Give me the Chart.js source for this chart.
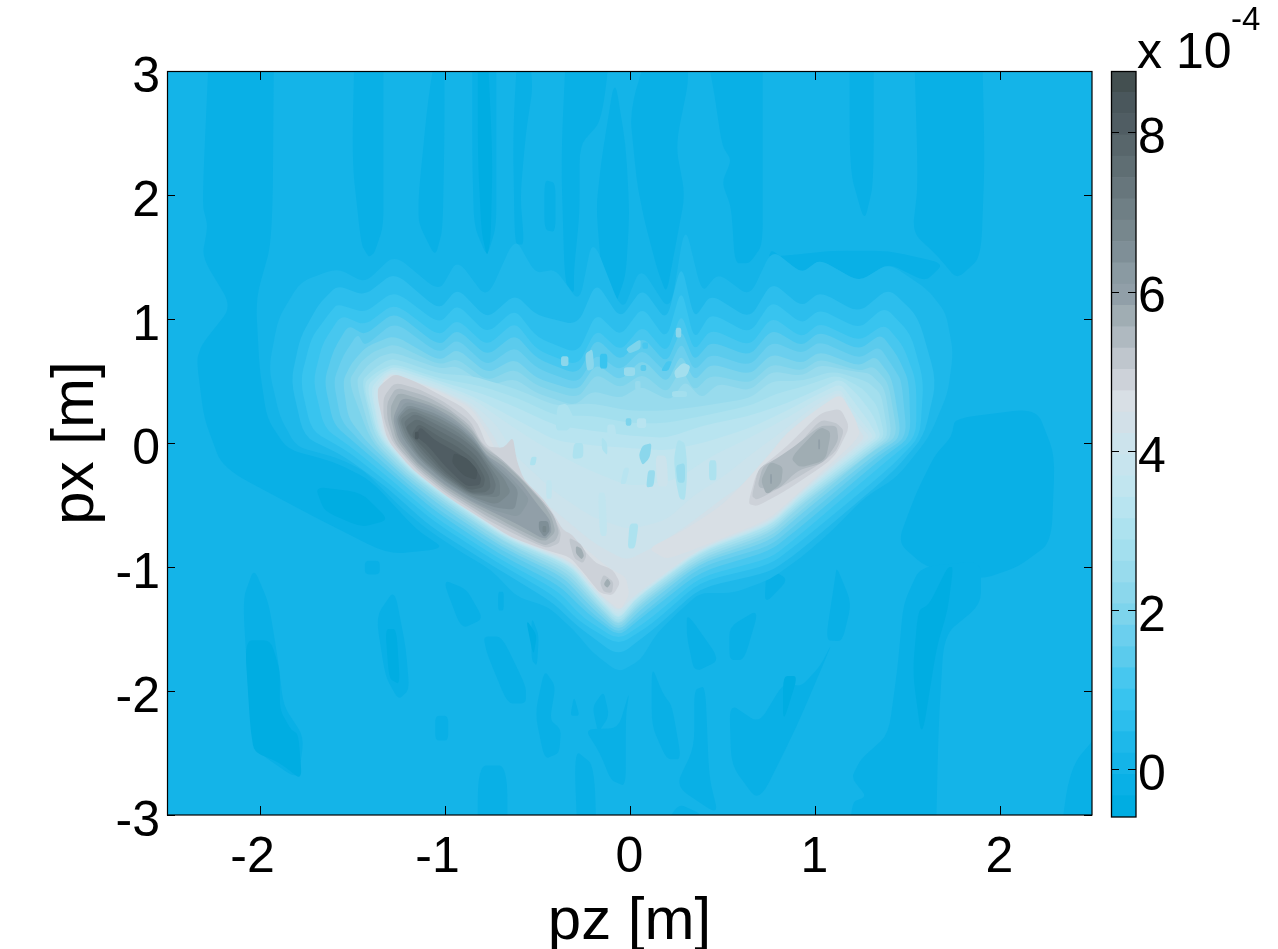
<!DOCTYPE html>
<html><head><meta charset="utf-8">
<script src="https://cdn.jsdelivr.net/npm/chart.js@4"></script>
<style>
html,body{margin:0;padding:0;background:#fff;overflow:hidden}
canvas{position:absolute;top:0}
.t{position:absolute;font-family:"Liberation Sans";color:#000;white-space:pre}
</style></head><body>
<canvas id="main" width="1278" height="949" style="left:0"></canvas>
<canvas id="bar" width="178" height="949" style="left:1100px"></canvas>
<div class="t" style="left:1137px;top:26px;font-size:50px;line-height:50px">x 10</div>
<div class="t" style="left:1231px;top:2px;font-size:33px;line-height:33px">-4</div>
<script>
const pzTicks=[-2,-1,0,1,2];
const pxTicks=[-3,-2,-1,0,1,2,3];
const barTicks=[0,2,4,6,8];
const barEdges=[-0.6,-0.332,-0.064,0.203,0.471,0.739,1.007,1.275,1.542,1.81,2.078,2.345,2.613,2.881,3.149,3.416,3.684,3.952,4.219,4.487,4.755,5.023,5.29,5.558,5.826,6.093,6.361,6.629,6.897,7.164,7.432,7.7,7.967,8.235,8.503,8.77];
const levelColors=['#00ade2','#09b0e6','#14b4e8','#1eb8ea','#2cbeed','#38c4ef','#47c7ef','#5bcbed','#6bcfee','#7dd4ec','#8bd7ec','#98dbed','#a3dfee','#ade2ef','#b8e4f0','#c1e5ef','#c7e4ee','#cce3ec','#d2e0e8','#d8dfe5','#cdd2d9','#bfc6cd','#afb9c0','#a0adb3','#919fa8','#8a9aa2','#7f8f97','#77878d','#6f7f85','#67767c','#5f6e73','#58666b','#505d63','#4a575c','#434f50'];

// contour outlines [pz, px], level = index into levelColors
const low1=[
[[-2.26,3.6],[-2.31,1.93],[-2.28,1.75],[-2.31,1.5],[-2.15,1.1],[-2.31,.8],[-2.34,.67],[-2.3,.2],[-2.2,-.2],[-1.7,-.6],[-1.3,-.9],[-1,-.85],[-1.15,-.7],[-1.4,-.3],[-1.6,-.15],[-1.85,-.05],[-1.96,.2],[-2,.6],[-2.02,1.16],[-1.93,1.64],[-1.92,3.6]],
[[-1.48,3.6],[-1.33,3.6],[-1.33,2.28],[-1.33,1.75],[-1.38,1.53],[-1.41,1.5],[-1.45,1.6],[-1.5,2.28]],
[[-1,3.6],[-1.09,2.76],[-1.14,2],[-1.14,1.77],[-1.05,1.5],[-1.01,1.72],[-1,2.5]],
[[-.85,3.6],[-.72,3.6],[-.72,2.28],[-.72,1.75],[-.77,1.5],[-.84,1.75],[-.85,2.28]],
[[-.59,3.6],[-.52,2.9],[-.56,2.5],[-.59,2],[-.57,1.6],[-.62,1.6],[-.63,2.5]],
[[-.33,3.6],[-.07,3.6],[-.15,2.6],[-.27,2.4],[-.27,1.85],[-.3,1.4],[-.3,1.2],[-.35,1.3],[-.37,2.3]],
[[-.46,2.12],[-.4,2.1],[-.4,1.7],[-.46,1.72]],
[[-.15,2.3],[-.08,2.95],[-.02,2.4],[0,1.85],[-.02,1.35],[-.08,1.1],[-.15,1.35],[-.18,1.9]],
[[.35,3.6],[.72,3.6],[.72,2.3],[.72,1.6],[.65,1.45],[.57,1.45],[.55,1.9],[.5,2.1],[.55,2.28],[.5,2.4],[.45,2.9]],
[[0,2.7],[.2,3.6],[.33,3],[.25,2.4],[.3,2],[.25,1.6],[.2,1.2],[.15,1.4],[.08,1.8],[.04,2.1]],
[[1.19,3.6],[1.32,3.6],[1.32,2.1],[1.27,1.78],[1.19,2.2]],
[[1.53,3.6],[1.9,3.6],[1.92,2.28],[1.9,1.5],[1.77,1.32],[1.67,1.5],[1.53,1.7],[1.56,2.1]],
[[.75,1.5],[.9,1.52],[1.1,1.55],[1.4,1.55],[1.7,1.45],[1.6,1.3],[1.4,1.45],[1.24,1.3],[1.03,1.48],[.93,1.37],[.77,1.56]],
[[1.76,.2],[2.2,.28],[2.3,-.1],[2.28,-.8],[2.1,-1],[1.9,-1.1],[1.6,-1],[1.45,-.8],[1.55,-.4],[1.65,-.1],[1.74,.05]],
[[-2.03,-1.01],[-2.09,-1.26],[-2.06,-2.02],[-2.03,-2.47],[-1.79,-2.72],[-1.76,-2.37],[-1.87,-2.12],[-1.9,-1.75],[-1.95,-1.29]],
[[-1.27,-1.18],[-1.37,-1.4],[-1.32,-1.88],[-1.25,-2.07],[-1.19,-1.99],[-1.21,-1.64]],
[[-1.43,-.95],[-1.35,-.95],[-1.35,-1.06],[-1.43,-1.06]],
[[-1.01,-1.1],[-.91,-1.5],[-.79,-1.42],[-.88,-1.18]],
[[-1.05,-2.2],[-.98,-2.2],[-.98,-2.4],[-1.05,-2.4]],
[[-.79,-1.56],[-.69,-1.56],[-.56,-1.96],[-.56,-2.1],[-.66,-2.1],[-.77,-1.7]],
[[-.71,-1.2],[-.68,-1.2],[-.68,-1.35],[-.71,-1.35]],
[[-.53,-1.4],[-.49,-1.55],[-.5,-1.8],[-.53,-1.75]],
[[-.46,-1.83],[-.4,-1.96],[-.43,-2.23],[-.37,-2.31],[-.38,-2.5],[-.46,-2.55],[-.51,-2.18]],
[[-.3,-2.04],[-.27,-2.2],[-.32,-2.2]],
[[-.14,-2],[-.11,-2.2],[-.17,-2.34],[-.2,-2.13]],
[[-.24,-2.31],[-.16,-2.5],[-.1,-2.72],[-.02,-2.77],[-.02,-2.2],[0,-2],[-.06,-2.3]],
[[.12,-1.8],[.18,-2.02],[.23,-2.12],[.28,-2.55],[.2,-2.55],[.12,-2.28]],
[[.31,-1.37],[.49,-1.75],[.35,-1.85],[.31,-1.56]],
[[.35,-1.99],[.41,-1.96],[.43,-2.69],[.48,-3],[.25,-2.77],[.35,-2.45]],
[[.54,-1.48],[.7,-1.34],[.62,-1.75],[.54,-1.75]],
[[.54,-2.1],[.7,-2.26],[.83,-1.94],[.93,-1.96],[1.03,-1.8],[1.1,-1.6],[.9,-2.3],[.7,-2.9],[.55,-2.6]],
[[1.12,-1],[1.2,-1.29],[1.15,-1.6],[1.06,-1.59],[1.11,-1.1]],
[[.74,-1],[.86,-1.1],[.73,-1.3]],
[[1.57,-1],[1.9,-.95],[1.9,-1.3],[1.7,-1.55],[1.67,-2.3],[1.65,-3.6],[1.17,-3.6],[1.2,-2.9],[1.28,-2.85],[1.2,-2.7],[1.25,-2.55],[1.4,-2.35],[1.45,-1.8],[1.48,-1.3]],
[[2.29,-3.6],[2.38,-2.62],[2.6,-2.23],[2.6,-3.6]],
[[-.82,-2.6],[-.66,-2.6],[-.66,-3.6],[-.82,-3.6]],
[[-.3,-2.47],[-.19,-2.6],[-.17,-3.6],[-.27,-3.6]],
[[.4,-3],[.25,-2.9],[.05,-3.6],[.48,-3.6]]
];
const low0=[
[[-2.08,-1.59],[-1.94,-1.59],[-1.89,-1.83],[-1.89,-2.15],[-1.83,-2.31],[-1.79,-2.35],[-1.77,-2.72],[-1.89,-2.58],[-2.03,-2.49],[-2.05,-2.29]],
[[-.82,3.6],[-.78,3.6],[-.74,2.3],[-.75,1.65],[-.77,1.5],[-.8,1.7],[-.82,2.3]],
[[1.72,-1],[1.75,-1],[1.72,-1.35],[1.66,-1.65],[1.58,-2.4],[1.53,-1.85],[1.56,-1.35],[1.62,-1.3]],
[[.83,-1.88],[.91,-1.88],[.83,-2.26]],
[[-1.32,-1.5],[-1.26,-1.5],[-1.24,-1.95],[-1.3,-1.9]],
[[-.56,-1.42],[-.5,-1.55],[-.52,-1.72]],
[[-1.7,-.35],[-1.45,-.4],[-1.3,-.62],[-1.45,-.68],[-1.65,-.55]]
];
const k3=[[-1.95,.6],[-1.9,1],[-1.78,1.3],[-1.58,1.41],[-1.43,1.29],[-1.27,1.52],[-1.03,1.22],[-.93,1.48],[-.77,1.16],[-.62,1.66],[-.51,1.37],[-.4,1.4],[-.27,1.13],[-.2,1.66],[-.04,1.05],[.06,1.42],[.22,1.05],[.3,1.77],[.39,1.21],[.48,1.37],[.65,1.18],[.77,1.56],[.93,1.37],[1.03,1.48],[1.24,1.3],[1.4,1.45],[1.61,1.24],[1.71,1.05],[1.75,.73],[1.72,.4],[1.62,.05],[1.45,-.27],[1.27,-.44],[1.1,-.7],[.93,-.92],[.76,-1.1],[.56,-1.21],[.38,-1.21],[.26,-1.37],[.15,-1.53],[.06,-1.75],[-.06,-1.85],[-.2,-1.69],[-.3,-1.51],[-.44,-1.32],[-.61,-1.24],[-.75,-1.02],[-.9,-.89],[-1.09,-.7],[-1.22,-.54],[-1.33,-.38],[-1.44,-.22],[-1.58,-.12],[-1.8,-.03],[-1.89,.21]];
const k4=[[-1.83,.5],[-1.78,.85],[-1.68,1.12],[-1.58,1.27],[-1.43,1.19],[-1.27,1.38],[-1.03,1.07],[-.93,1.25],[-.77,1],[-.62,1.2],[-.5,1.03],[-.28,.95],[-.18,1.3],[-.05,1],[.07,1.25],[.2,.98],[.28,1.45],[.35,1],[.44,1.2],[.65,1],[.77,1.3],[.93,1.1],[1.03,1.22],[1.24,1.05],[1.4,1.25],[1.56,1.02],[1.66,.5],[1.59,.05],[1.42,-.24],[.93,-.86],[.76,-1.04],[.38,-1.17],[.14,-1.49],[-.06,-1.72],[-.28,-1.48],[-.42,-1.28],[-.74,-.99],[-1.08,-.67],[-1.31,-.36],[-1.55,-.1],[-1.76,.05]];
const k5=[[-1.78,.5],[-1.72,.85],[-1.62,1.05],[-1.58,1.12],[-1.43,1.05],[-1.27,1.23],[-1.03,.96],[-.93,1.12],[-.77,.88],[-.62,1.08],[-.5,.85],[-.28,.72],[-.18,1.05],[-.05,.86],[.07,1.1],[.2,.83],[.28,1.25],[.35,.83],[.44,1.05],[.65,.88],[.77,1.15],[.93,.96],[1.03,1.08],[1.24,.92],[1.38,1.1],[1.52,.88],[1.59,.5],[1.57,.05],[1.4,-.21],[.93,-.79],[.76,-.98],[.38,-1.12],[.12,-1.46],[-.06,-1.63],[-.27,-1.44],[-.41,-1.23],[-.73,-.95],[-1.06,-.63],[-1.29,-.34],[-1.52,-.07],[-1.72,.1]];
const k6=[[-1.71,.5],[-1.66,.8],[-1.56,1.03],[-1.43,.95],[-1.27,1.13],[-1.03,.86],[-.93,1],[-.77,.78],[-.62,.98],[-.5,.75],[-.28,.62],[-.18,.92],[-.05,.74],[.07,.95],[.2,.72],[.28,1.05],[.35,.74],[.44,.92],[.65,.78],[.77,1.02],[.93,.85],[1.03,.97],[1.24,.82],[1.38,.96],[1.48,.78],[1.55,.5],[1.55,.05],[1.37,-.17],[.93,-.73],[.76,-.93],[.38,-1.08],[.11,-1.42],[-.06,-1.59],[-.25,-1.41],[-.39,-1.19],[-.72,-.92],[-1.05,-.6],[-1.27,-.32],[-1.49,-.05],[-1.65,.12]];
const k7=[[-1.65,.5],[-1.6,.75],[-1.52,.95],[-1.43,.87],[-1.27,1.06],[-1.03,.78],[-.93,.92],[-.77,.7],[-.62,.88],[-.5,.68],[-.28,.55],[-.18,.85],[-.05,.66],[.07,.86],[.2,.64],[.28,.92],[.35,.66],[.44,.82],[.65,.7],[.77,.92],[.93,.78],[1.03,.9],[1.24,.75],[1.36,.88],[1.45,.7],[1.51,.5],[1.52,.05],[1.35,-.14],[.93,-.67],[.76,-.87],[.38,-1.04],[.09,-1.38],[-.06,-1.56],[-.23,-1.37],[-.38,-1.15],[-.71,-.89],[-1.04,-.56],[-1.25,-.3],[-1.46,-.03],[-1.6,.15]];
const k8=[[-1.6,.5],[-1.55,.7],[-1.47,.88],[-1.43,.78],[-1.27,.98],[-1.03,.72],[-.93,.84],[-.77,.62],[-.62,.78],[-.5,.6],[-.28,.48],[-.18,.72],[-.05,.58],[.07,.76],[.2,.56],[.28,.82],[.35,.58],[.44,.72],[.65,.62],[.77,.82],[.93,.72],[1.03,.82],[1.24,.68],[1.35,.78],[1.43,.6],[1.47,.5],[1.5,.05],[1.33,-.12],[.93,-.62],[.76,-.83],[.38,-1],[.08,-1.36],[-.06,-1.54],[-.22,-1.35],[-.37,-1.11],[-.7,-.86],[-1.03,-.54],[-1.24,-.28],[-1.44,-.01],[-1.56,.18]];
const k9=[[-1.55,.5],[-1.5,.65],[-1.42,.78],[-1.27,.87],[-1.03,.66],[-.93,.76],[-.77,.56],[-.62,.68],[-.5,.52],[-.28,.42],[-.18,.64],[-.05,.5],[.07,.68],[.2,.48],[.28,.72],[.35,.5],[.44,.64],[.65,.55],[.77,.72],[.93,.64],[1.03,.74],[1.24,.62],[1.33,.7],[1.42,.52],[1.47,.05],[1.32,-.1],[.93,-.57],[.76,-.79],[.38,-.97],[.07,-1.33],[-.06,-1.52],[-.21,-1.32],[-.36,-1.08],[-.69,-.84],[-1.02,-.51],[-1.23,-.26],[-1.42,.01],[-1.52,.2]];
const k10=[[-1.52,.5],[-1.45,.66],[-1.38,.74],[-1.27,.8],[-1.03,.63],[-.93,.68],[-.77,.5],[-.62,.6],[-.5,.46],[-.28,.36],[-.18,.56],[-.05,.44],[.07,.56],[.2,.4],[.28,.6],[.35,.42],[.44,.55],[.65,.48],[.77,.64],[.93,.58],[1.03,.68],[1.24,.58],[1.32,.62],[1.4,.48],[1.45,.05],[1.3,-.08],[.93,-.54],[.76,-.76],[.38,-.95],[.06,-1.31],[-.06,-1.5],[-.2,-1.3],[-.35,-1.06],[-.69,-.82],[-1.01,-.49],[-1.22,-.25],[-1.4,.02]];
const k11=[[-1.48,.5],[-1.42,.62],[-1.35,.7],[-1.27,.73],[-1.03,.6],[-.93,.62],[-.77,.46],[-.62,.52],[-.5,.4],[-.3,.3],[-.2,.42],[-.05,.36],[.06,.46],[.22,.34],[.3,.5],[.39,.36],[.48,.48],[.65,.42],[.77,.58],[.93,.54],[1.03,.63],[1.2,.58],[1.3,.56],[1.38,.44],[1.42,.05],[1.31,-.07],[.93,-.5],[.76,-.73],[.38,-.93],[.06,-1.29],[-.06,-1.48],[-.19,-1.29],[-.34,-1.04],[-.68,-.8],[-1,-.48],[-1.21,-.24],[-1.39,.03]];
const k12=[[-1.45,.5],[-1.38,.6],[-1.32,.66],[-1.27,.68],[-1.03,.56],[-.85,.54],[-.62,.44],[-.4,.3],[-.2,.32],[0,.26],[.2,.26],[.4,.3],[.65,.36],[.77,.5],[.93,.5],[1.1,.58],[1.28,.5],[1.36,.4],[1.4,.05],[1.3,-.06],[.93,-.48],[.76,-.71],[.38,-.91],[.05,-1.28],[-.06,-1.47],[-.19,-1.27],[-.33,-1.02],[-.68,-.79],[-1,-.46],[-1.2,-.23],[-1.375,.04]];
const k13=[[-1.44,.48],[-1.36,.58],[-1.27,.64],[-1.03,.52],[-.8,.46],[-.6,.36],[-.4,.22],[-.2,.22],[0,.16],[.2,.16],[.4,.22],[.65,.3],[.8,.4],[.95,.46],[1.12,.55],[1.26,.44],[1.34,.3],[1.38,.05],[1.29,-.05],[.93,-.46],[.76,-.69],[.38,-.89],[.05,-1.26],[-.06,-1.45],[-.18,-1.26],[-.33,-1],[-.67,-.78],[-.995,-.45],[-1.195,-.225],[-1.365,.05]];
const k14=[[-1.42,.46],[-1.35,.56],[-1.27,.62],[-1.03,.5],[-.8,.4],[-.6,.28],[-.4,.14],[-.2,.1],[0,.06],[.2,.04],[.4,.14],[.65,.22],[.85,.32],[1,.42],[1.14,.52],[1.24,.38],[1.32,.22],[1.36,.05],[1.28,-.04],[.93,-.44],[.76,-.67],[.38,-.88],[.04,-1.25],[-.06,-1.43],[-.18,-1.25],[-.32,-.99],[-.67,-.77],[-.99,-.44],[-1.19,-.22],[-1.36,.06]];
const k15=[[-1.4,.44],[-1.33,.56],[-1.27,.6],[-1.03,.48],[-.85,.38],[-.6,.18],[-.4,.02],[-.2,-.02],[0,-.04],[.2,-.06],[.4,0],[.65,.12],[.85,.26],[1,.38],[1.14,.48],[1.22,.32],[1.29,.18],[1.34,.05],[1.27,-.03],[.93,-.42],[.76,-.66],[.38,-.87],[.04,-1.245],[-.06,-1.42],[-.17,-1.24],[-.32,-.98],[-.67,-.76],[-.99,-.43],[-1.185,-.215],[-1.35,.06]];
const k16=[[-1.39,.42],[-1.32,.55],[-1.27,.58],[-1.03,.46],[-.85,.36],[-.7,.2],[-.5,0],[-.25,-.2],[0,-.35],[.25,-.3],[.45,-.1],[.62,.02],[.85,.2],[1,.34],[1.14,.44],[1.2,.28],[1.27,.15],[1.32,.05],[1.26,-.02],[.93,-.41],[.76,-.65],[.38,-.86],[.04,-1.24],[-.06,-1.4],[-.17,-1.24],[-.32,-.97],[-.665,-.76],[-.985,-.43],[-1.18,-.21],[-1.345,.07]];
const k17=[[-1.37,.42],[-1.31,.55],[-1.27,.56],[-1.03,.44],[-.85,.32],[-.72,.15],[-.62,-.1],[-.4,-.4],[-.2,-.6],[0,-.7],[.2,-.62],[.35,-.42],[.5,-.28],[.65,-.1],[.85,.12],[1,.3],[1.14,.42],[1.2,.22],[1.3,.05],[1.25,-.01],[.93,-.4],[.76,-.64],[.38,-.855],[.035,-1.23],[-.06,-1.38],[-.165,-1.23],[-.315,-.965],[-.665,-.75],[-.985,-.42],[-1.18,-.21],[-1.34,.07]];
const k18=[[-1.35,.42],[-1.3,.55],[-1.27,.55],[-1.03,.43],[-.85,.3],[-.73,.05],[-.62,-.3],[-.4,-.55],[-.2,-.8],[-.02,-.95],[.12,-.85],[.3,-.68],[.5,-.45],[.65,-.3],[.78,-.05],[.95,.14],[1.1,.34],[1.18,.24],[1.27,.05],[1.245,0],[.93,-.39],[.76,-.63],[.38,-.85],[.03,-1.225],[-.06,-1.36],[-.16,-1.225],[-.31,-.96],[-.66,-.75],[-.98,-.41],[-1.17,-.2],[-1.335,.08]];
const k19a=[[-1.34,.5],[-1.27,.55],[-1.03,.42],[-.85,.28],[-.74,0],[-.62,-.38],[-.45,-.6],[-.28,-.8],[-.12,-1],[-.02,-1.08],[0,-1.22],[-.05,-1.35],[-.16,-1.22],[-.31,-.95],[-.66,-.74],[-.98,-.41],[-1.17,-.2],[-1.33,.08]];
const k19b=[[1.14,.4],[1.22,.2],[1.25,.05],[.93,-.38],[.75,-.62],[.38,-.84],[.2,-.94],[.1,-.85],[.3,-.7],[.5,-.5],[.62,-.32],[.75,-.1],[.85,.08],[1,.26]];
// [level, outline] spots inside the light plateau
const spots=[
[10,[[-.24,.72],[-.2,.76],[-.19,.6],[-.23,.58]]],
[10,[[.25,.93],[.28,.93],[.28,.85],[.25,.85]]],
[12,[[.24,.58],[.29,.65],[.33,.62],[.31,.54],[.25,.52]]],
[11,[[-.03,.61],[.03,.61],[.03,.54],[-.03,.54]]],
[11,[[.03,.5],[.06,.5],[.06,.43],[.03,.43]]],
[12,[[.23,.42],[.31,.42],[.31,.37],[.23,.37]]],
[9,[[-.02,.76],[.06,.84],[.06,.76],[0,.72]]],
[6,[[.07,.81],[.1,.81],[.1,.76],[.07,.76]]],
[7,[[.06,.63],[.09,.63],[.09,.58],[.06,.58]]],
[6,[[.2,.66],[.23,.66],[.21,.58],[.17,.58]]],
[8,[[.35,.6],[.38,.6],[.38,.56],[.35,.56]]],
[9,[[-.02,.2],[.01,.2],[.01,.14],[-.02,.14]]],
[14,[[.04,.2],[.09,.2],[.09,.12],[.04,.12]]],
[14,[[-.12,.15],[-.08,.15],[-.07,.05],[-.12,.05]]],
[13,[[-.39,.3],[-.34,.32],[-.3,.2],[-.33,.1],[-.4,.1]]],
[10,[[.07,-.02],[.12,0],[.11,-.12],[.07,-.18],[.05,-.1]]],
[11,[[.1,-.22],[.14,-.22],[.13,-.35],[.09,-.36]]],
[13,[[.26,.03],[.3,0],[.31,-.14],[.31,-.3],[.3,-.46],[.27,-.45],[.25,-.3],[.24,-.12]]],
[11,[[.25,-.18],[.3,-.16],[.3,-.32],[.26,-.32]]],
[13,[[.43,-.14],[.47,-.14],[.47,-.3],[.43,-.3]]],
[13,[[-.3,0],[-.25,0],[-.25,-.12],[-.31,-.13]]],
[13,[[-.15,.05],[-.12,0],[-.12,-.1],[-.15,-.05]]],
[13,[[0,-.65],[.05,-.65],[.03,-.85],[-.01,-.85]]],
[15,[[-.17,-.4],[-.13,-.4],[-.12,-.75],[-.16,-.75]]],
[14,[[-.03,-.2],[0,-.2],[-.02,-.33],[-.05,-.33]]],
[17,[[.14,-.1],[.2,-.1],[.21,-.35],[.15,-.35]]],
[13,[[-.53,-.11],[-.5,-.11],[-.51,-.18],[-.54,-.18]]],
[10,[[-.37,.7],[-.33,.7],[-.33,.62],[-.37,.62]]],
[5,[[-.16,.72],[-.12,.72],[-.12,.6],[-.16,.6]]],
[15,[[-.45,-.3],[-.42,-.3],[-.42,-.45],[-.45,-.45]]]
];
const k20a=[[-1.27,.56],[-1.15,.49],[-1.04,.4],[-.9,.29],[-.82,.16],[-.77,-.03],[-.68,-.04],[-.63,.05],[-.61,-.14],[-.57,-.3],[-.46,-.46],[-.4,-.6],[-.36,-.7],[-.31,-.74],[-.23,-.89],[-.18,-.97],[-.09,-1.02],[-.05,-1.13],[-.09,-1.23],[-.16,-1.21],[-.23,-1.08],[-.32,-.92],[-.46,-.86],[-.64,-.76],[-.79,-.62],[-.99,-.43],[-1.17,-.22],[-1.31,.02],[-1.36,.35],[-1.36,.45]];
const k20b=[[.64,-.49],[.69,-.22],[.85,-.03],[1.03,.24],[1.14,.28],[1.19,.13],[1.12,-.08],[1.07,-.16],[.85,-.38],[.69,-.51]];
const k21a=[[-1.27,.49],[-1.13,.43],[-1,.33],[-.86,.18],[-.8,0],[-.71,-.11],[-.62,-.24],[-.5,-.43],[-.42,-.56],[-.37,-.72],[-.38,-.81],[-.45,-.85],[-.63,-.73],[-.78,-.61],[-.86,-.53],[-1,-.4],[-1.15,-.22],[-1.28,0],[-1.33,.2],[-1.33,.37]];
const k21b=[[-.33,-.76],[-.265,-.81],[-.23,-.9],[-.25,-.97],[-.3,-.93]];
const k21c=[[-.14,-1.06],[-.086,-1.12],[-.095,-1.21],[-.14,-1.2],[-.16,-1.13]];
const k21d=[[.66,-.43],[.7,-.19],[.87,-.09],[1.03,.19],[1.12,.16],[1.16,.1],[1.12,-.06],[1.04,-.16],[.85,-.33],[.69,-.46]];
const k22a=[[-1.26,.45],[-1.1,.38],[-.98,.28],[-.86,.14],[-.79,-.03],[-.69,-.13],[-.6,-.26],[-.48,-.45],[-.41,-.58],[-.38,-.72],[-.4,-.79],[-.46,-.83],[-.62,-.71],[-.77,-.59],[-.86,-.51],[-1,-.38],[-1.15,-.2],[-1.27,0],[-1.31,.2],[-1.31,.33]];
const k22b=[[.69,-.36],[.72,-.19],[.8,-.12],[.89,-.03],[1.03,.14],[1.12,.14],[1.13,.02],[1.05,-.16],[.91,-.22],[.8,-.38]];
const k23a=[[-1.25,.41],[-1.08,.33],[-.96,.24],[-.85,.1],[-.78,-.06],[-.68,-.16],[-.58,-.3],[-.47,-.48],[-.42,-.6],[-.4,-.72],[-.46,-.8],[-.61,-.69],[-.76,-.57],[-.86,-.49],[-1,-.36],[-1.15,-.18],[-1.26,.02],[-1.29,.2],[-1.29,.3]];
const k23b=[[-.29,-.83],[-.26,-.85],[-.245,-.91],[-.26,-.94],[-.29,-.89]];
const k23c=[[-.12,-1.09],[-.1,-1.13],[-.12,-1.17],[-.14,-1.14]];
const k23d=[[.71,-.3],[.76,-.15],[.83,-.19],[.82,-.33],[.74,-.42]];
const k23e=[[.87,-.12],[1.03,.13],[1.09,.09],[1.06,-.14],[.92,-.2]];
const k24a=[[-1.23,.37],[-1.07,.3],[-.95,.2],[-.85,.07],[-.78,-.09],[-.68,-.19],[-.58,-.33],[-.5,-.49],[-.43,-.62],[-.42,-.72],[-.46,-.78],[-.6,-.66],[-.75,-.55],[-.86,-.47],[-1,-.34],[-1.15,-.16],[-1.25,.03],[-1.28,.2]];
const k24b=[[.76,-.25],[.77,-.25],[.77,-.33],[.76,-.33]];
const k24c=[[1.02,.03],[1.03,.03],[1.03,-.05],[1.02,-.05]];
const k25=[[-1.21,.34],[-1.06,.27],[-.94,.17],[-.84,.04],[-.77,-.11],[-.68,-.22],[-.59,-.36],[-.54,-.46],[-.6,-.6],[-.74,-.54],[-.86,-.46],[-1,-.33],[-1.15,-.15],[-1.24,.04],[-1.27,.2]];
const k26a=[[-1.2,.31],[-1.05,.24],[-.93,.14],[-.84,.02],[-.76,-.14],[-.68,-.25],[-.6,-.38],[-.62,-.54],[-.73,-.52],[-.86,-.44],[-1,-.31],[-1.14,-.13],[-1.23,.05],[-1.26,.2]];
const k26b=[[-.49,-.63],[-.44,-.63],[-.43,-.71],[-.46,-.76],[-.49,-.7]];
const k27a=[[-1.19,.29],[-1.04,.21],[-.92,.11],[-.83,-.01],[-.75,-.17],[-.68,-.28],[-.64,-.4],[-.72,-.5],[-.86,-.43],[-1,-.3],[-1.14,-.11],[-1.22,.06],[-1.25,.2]];
const k27b=[[-.47,-.67],[-.45,-.67],[-.45,-.72],[-.47,-.72]];
const k28=[[-1.17,.26],[-1.04,.18],[-.92,.08],[-.83,-.04],[-.75,-.2],[-.7,-.31],[-.7,-.44],[-.86,-.42],[-1,-.28],[-1.14,-.1],[-1.21,.07],[-1.24,.19]];
const k29=[[-1.16,.24],[-1.03,.14],[-.91,.04],[-.82,-.07],[-.75,-.23],[-.72,-.34],[-.74,-.42],[-.86,-.41],[-1,-.27],[-1.13,-.08],[-1.2,.08],[-1.22,.17]];
const k30=[[-1.15,.2],[-1.03,.1],[-.92,.01],[-.83,-.1],[-.76,-.26],[-.75,-.36],[-.78,-.4],[-.86,-.4],[-1,-.25],[-1.12,-.06],[-1.19,.07],[-1.21,.13]];
const k31=[[-1.14,.16],[-1.04,.06],[-.93,-.03],[-.84,-.13],[-.78,-.28],[-.79,-.36],[-.87,-.38],[-1,-.23],[-1.11,-.04],[-1.18,.06]];
const k32=[[-1.13,.13],[-1.05,.02],[-.95,-.06],[-.86,-.15],[-.8,-.28],[-.81,-.34],[-.88,-.35],[-.99,-.2],[-1.09,-.02],[-1.16,.06]];
const k33a=[[-.95,-.08],[-.88,-.12],[-.82,-.22],[-.83,-.3],[-.9,-.26],[-.96,-.16]];
const k33b=[[-1.16,.09],[-1.14,.09],[-1.14,.03],[-1.16,.03]];

const layers=[...low1.map(p=>[1,p]),...low0.map(p=>[0,p]),
[3,k3],[4,k4],[5,k5],[6,k6],[7,k7],[8,k8],[9,k9],[10,k10],[11,k11],[12,k12],[13,k13],[14,k14],[15,k15],[16,k16],[17,k17],[18,k18],[19,k19a],[19,k19b],
...spots,
[20,k20a],[20,k20b],[21,k21a],[21,k21b],[21,k21c],[21,k21d],[22,k22a],[22,k22b],[23,k23a],[23,k23b],[23,k23c],[23,k23d],[23,k23e],[24,k24a],[24,k24b],[24,k24c],[25,k25],[26,k26a],[26,k26b],[27,k27a],[27,k27b],[28,k28],[29,k29],[30,k30],[31,k31],[32,k32],[33,k33a],[33,k33b]];

const font='"Liberation Sans"';
const cut=.28;
const fillBands={id:'fillBands',
 beforeDatasetsDraw(chart){const a=chart.chartArea,c=chart.ctx;c.save();c.fillStyle=levelColors[2];c.fillRect(a.left,a.top,a.right-a.left,a.bottom-a.top);c.restore();},
 afterDatasetDraw(chart,args){
  const pts=args.meta.data, ctx=chart.ctx, a=chart.chartArea, n=pts.length;
  ctx.save();ctx.beginPath();ctx.rect(a.left,a.top,a.right-a.left,a.bottom-a.top);ctx.clip();
  ctx.beginPath();
  for(let i=0;i<n;i++){
    const p=pts[i],q=pts[(i+n-1)%n],r=pts[(i+1)%n];
    const ax=p.x+(q.x-p.x)*cut,ay=p.y+(q.y-p.y)*cut,bx=p.x+(r.x-p.x)*cut,by=p.y+(r.y-p.y)*cut;
    if(i)ctx.lineTo(ax,ay);else ctx.moveTo(ax,ay);
    ctx.quadraticCurveTo(p.x,p.y,bx,by);
  }
  ctx.closePath();
  ctx.fillStyle=args.meta.controller.getDataset().bandColor;ctx.fill();ctx.restore();
}};
const frame={id:'frame',afterDraw(chart){
  const ctx=chart.ctx,a=chart.chartArea,X=chart.scales.x,Y=chart.scales.y,L=9;
  ctx.save();ctx.strokeStyle='#000';ctx.lineWidth=1;ctx.beginPath();
  const isBar=chart.canvas.id==='bar';
  if(!isBar)pzTicks.forEach(v=>{const x=Math.round(X.getPixelForValue(v))+.5;ctx.moveTo(x,a.bottom);ctx.lineTo(x,a.bottom-L);ctx.moveTo(x,a.top);ctx.lineTo(x,a.top+L);});
  (isBar?barTicks:pxTicks).forEach(v=>{const y=Math.round(Y.getPixelForValue(v))+.5;ctx.moveTo(a.left,y);ctx.lineTo(a.left+L-1,y);ctx.moveTo(a.right,y);ctx.lineTo(a.right-L+1,y);});
  ctx.stroke();
  ctx.lineWidth=isBar?1.3:1.2;ctx.strokeRect(a.left+.5,a.top+.5,a.right-a.left-.5,a.bottom-a.top-.5);ctx.restore();
}};

new Chart(document.getElementById('main'),{type:'scatter',
 data:{datasets:layers.map(([k,p],i)=>({data:p.map(([x,y])=>({x,y})),bandColor:levelColors[k],order:layers.length-i,pointRadius:0,showLine:false}))},
 plugins:[fillBands,frame],
 options:{responsive:false,animation:false,events:[],
  layout:{padding:{top:71,right:186,left:0,bottom:0}},
  plugins:{legend:{display:false},tooltip:{enabled:false}},
  scales:{
   x:{type:'linear',min:-2.5,max:2.5,afterBuildTicks:s=>{s.ticks=pzTicks.map(value=>({value}))},afterFit:s=>{s.height=134},
      grid:{display:false,drawTicks:false},border:{display:false},
      ticks:{autoSkip:false,maxRotation:0,padding:13,color:'#000',font:{family:font,size:50},callback:v=>v<0?v+' ':''+v},
      title:{display:true,text:'pz [m]',color:'#000',font:{family:font,size:60},padding:{top:0,bottom:-9}}},
   y:{type:'linear',min:-3,max:3,afterBuildTicks:s=>{s.ticks=pxTicks.map(value=>({value}))},afterFit:s=>{s.width=167},
      grid:{display:false,drawTicks:false},border:{display:false},
      ticks:{autoSkip:false,padding:7,labelOffset:7,color:'#000',font:{family:font,size:50},callback:v=>''+v},
      title:{display:true,text:'px [m]',color:'#000',font:{family:font,size:60},padding:{top:40,bottom:0}}}
  }}});

new Chart(document.getElementById('bar'),{type:'bar',
 data:{labels:['c'],datasets:levelColors.map((c,i)=>({data:[[barEdges[i],barEdges[i+1]]],backgroundColor:c,borderWidth:0,grouped:false,barPercentage:1,categoryPercentage:1}))},
 plugins:[frame],
 options:{responsive:false,animation:false,events:[],
  layout:{padding:{top:71,right:100,left:11,bottom:132}},
  plugins:{legend:{display:false},tooltip:{enabled:false}},
  scales:{
   x:{display:false},
   y:{type:'linear',position:'right',min:-0.6,max:8.77,afterBuildTicks:s=>{s.ticks=barTicks.map(value=>({value}))},afterFit:s=>{s.width=42},
      grid:{display:false,drawTicks:false},border:{display:false},
      ticks:{padding:2,labelOffset:7,color:'#000',font:{family:font,size:50},callback:v=>''+v}}
  }}});
</script></body></html>
